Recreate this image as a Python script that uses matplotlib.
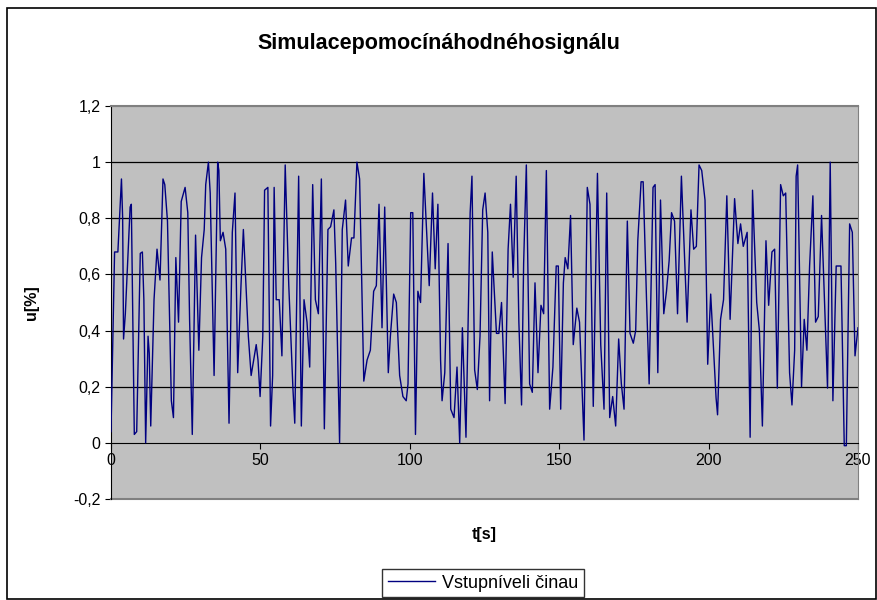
import matplotlib.pyplot as plt
from matplotlib.patches import Rectangle

# turning points (time in s, value)
t = [0, 1.2, 2.3, 3.5, 3.9, 4.2, 4.8, 6.4, 6.8, 7.5, 7.8, 8.6, 9.8, 10.5, 11.0, 11.6,
     12.4, 12.8, 13.3, 14.4, 15.4, 16.4, 17.4, 18.0, 18.9, 20.2, 20.9, 21.7, 22.6, 23.5,
     24.8, 25.7, 26.3, 27.2, 28.3, 29.4, 30.3, 31.2, 31.7, 32.6, 33.2, 34.5, 35.7, 36.1,
     36.6, 37.5, 38.4, 39.5, 40.6, 41.5, 42.4, 43.5, 44.3, 45.96, 46.9, 48.6, 49.2, 49.9,
     50.8, 51.4, 52.5, 53.4, 54.1, 54.6, 55.3, 56.3, 57.2, 58.3, 59.5, 60.9, 61.5, 62.8,
     63.7, 64.6, 65.6, 66.5, 67.5, 68.4, 69.4, 70.4, 71.4, 72.6, 73.5, 74.6, 75.2, 76.5,
     77.4, 78.5, 79.4, 80.5, 81.3, 82.3, 83.2, 84.6, 85.7, 86.8, 87.9, 88.8, 89.7, 90.7,
     91.6, 92.8, 93.5, 94.6, 95.5, 96.6, 97.7, 98.8, 99.4, 100.3, 101.0, 101.9, 102.7,
     103.6, 104.7, 106.5, 107.6, 108.5, 109.4, 110.3, 110.8, 111.7, 112.8, 113.7, 114.8,
     115.8, 116.7, 117.6, 118.8, 120.2, 120.8, 121.7, 122.6, 123.5, 124.4, 125.2, 126.1,
     126.7, 127.6, 129.0, 129.8, 130.7, 131.9, 132.9, 133.7, 134.6, 135.6, 136.5, 137.4,
     138.1, 139.0, 140.1, 141.0, 141.9, 142.9, 143.9, 144.8, 145.7, 146.8, 147.9, 149.0,
     149.7, 150.5, 151.4, 152.0, 152.9, 153.8, 154.7, 155.9, 156.8, 158.3, 159.4, 160.3,
     161.4, 162.8, 163.9, 165.0, 165.9, 166.9, 167.9, 168.9, 169.9, 170.8, 171.7, 172.8,
     173.7, 174.8, 175.6, 176.3, 177.4, 178.1, 179.2, 180.1, 181.4, 182.1, 183.0, 183.9,
     185.0, 185.9, 186.8, 187.6, 188.6, 189.6, 190.9, 192.8, 194.1, 195.0, 195.9, 196.8,
     197.7, 198.8, 199.7, 200.7, 202.5, 203.0, 204.0, 205.0, 206.1, 207.2, 208.7, 209.8,
     210.7, 211.6, 212.9, 213.9, 214.7, 216.1, 217.0, 218.0, 219.2, 220.1, 221.2, 222.1,
     223.0, 224.1, 225.0, 225.8, 227.1, 227.9, 228.8, 229.3, 229.8, 231.1, 232.0, 232.9,
     233.8, 234.9, 235.8, 236.7, 237.8, 238.7, 239.8, 240.7, 241.6, 242.7, 244.3, 245.4,
     246.1, 247.2, 248.1, 249.0, 250.0]
u = [0.04, 0.68, 0.68, 0.94, 0.80, 0.37, 0.46, 0.84, 0.85, 0.26, 0.03, 0.04, 0.675, 0.68, 0.51, 0.0,
     0.38, 0.32, 0.06, 0.51, 0.69, 0.58, 0.94, 0.92, 0.79, 0.15, 0.09, 0.66, 0.43, 0.86,
     0.91, 0.82, 0.44, 0.03, 0.74, 0.33, 0.66, 0.76, 0.92, 1.0, 0.89, 0.24, 1.0, 0.97,
     0.72, 0.75, 0.69, 0.07, 0.75, 0.89, 0.25, 0.56, 0.76, 0.38, 0.24, 0.35, 0.295, 0.165,
     0.38, 0.90, 0.91, 0.06, 0.24, 0.91, 0.51, 0.51, 0.31, 0.99, 0.56, 0.19, 0.07, 0.95,
     0.06, 0.51, 0.43, 0.27, 0.92, 0.51, 0.46, 0.94, 0.05, 0.76, 0.77, 0.83, 0.64, 0.0,
     0.76, 0.865, 0.63, 0.73, 0.73, 1.0, 0.94, 0.22, 0.295, 0.33, 0.54, 0.56, 0.85, 0.41,
     0.84, 0.25, 0.38, 0.53, 0.50, 0.24, 0.165, 0.15, 0.21, 0.82, 0.82, 0.03, 0.54,
     0.50, 0.96, 0.56, 0.89, 0.62, 0.85, 0.295, 0.15, 0.25, 0.71, 0.12, 0.09,
     0.27, 0.0, 0.41, 0.02, 0.82, 0.95, 0.26, 0.19, 0.38, 0.83, 0.89, 0.75,
     0.15, 0.68, 0.39, 0.39, 0.50, 0.14, 0.69, 0.85, 0.59, 0.95, 0.43, 0.135,
     0.64, 0.99, 0.21, 0.18, 0.57, 0.25, 0.49, 0.46, 0.97, 0.12, 0.27, 0.63,
     0.63, 0.12, 0.57, 0.66, 0.62, 0.81, 0.35, 0.48, 0.43, 0.01, 0.91, 0.85,
     0.13, 0.96, 0.35, 0.12, 0.89, 0.09, 0.165, 0.06, 0.37, 0.21, 0.12, 0.79,
     0.39, 0.355, 0.40, 0.72, 0.93, 0.93, 0.52, 0.21, 0.91, 0.92, 0.25, 0.865,
     0.46, 0.54, 0.65, 0.82, 0.79, 0.46, 0.95, 0.43, 0.83, 0.69, 0.70, 0.99,
     0.97, 0.865, 0.28, 0.53, 0.16, 0.10, 0.44, 0.51, 0.88, 0.44, 0.87, 0.71,
     0.78, 0.70, 0.75, 0.02, 0.90, 0.50, 0.40, 0.06, 0.72, 0.49, 0.68, 0.69,
     0.195, 0.92, 0.88, 0.89, 0.25, 0.135, 0.33, 0.95, 0.99, 0.20, 0.44, 0.33,
     0.63, 0.88, 0.43, 0.45, 0.81, 0.53, 0.195, 1.0, 0.15, 0.63, 0.63, -0.01,
     -0.01, 0.78, 0.75, 0.31, 0.41]

xticks = [0, 50, 100, 150, 200, 250]
yticks = [-0.2, 0, 0.2, 0.4, 0.6, 0.8, 1.0, 1.2]
ylabels = ["-0,2", "0", "0,2", "0,4", "0,6", "0,8", "1", "1,2"]

plt.rcParams['font.family'] = ['Liberation Sans', 'DejaVu Sans']

fig = plt.figure(figsize=(8.78, 6), dpi=100)
fig.patches.append(Rectangle((7 / 878, 0.002), 869 / 878, 1 - 8 / 600 - 0.002,
                             transform=fig.transFigure, fill=False,
                             edgecolor='black', linewidth=1.2))

ax = fig.add_axes([111 / 878, 1 - 499 / 600, 747 / 878, 393 / 600])
ax.set_facecolor('#C0C0C0')
ax.set_xlim(0, 250)
ax.set_ylim(-0.2, 1.2)

for yv in yticks[2:-1]:
    ax.axhline(yv, color='black', linewidth=0.9, zorder=1)

ax.plot(t, u, color='#000080', linewidth=1.0, zorder=3, label='Vstupníveli činau')

ax.spines['bottom'].set_position(('data', 0))
ax.spines['bottom'].set_color('black')
ax.spines['left'].set_color('black')
ax.spines['top'].set_color('#808080')
ax.spines['right'].set_color('#808080')
ax.axhline(-0.2, color='#808080', linewidth=1.5, clip_on=False, zorder=2)
ax.axhline(1.2, color='#808080', linewidth=1.5, clip_on=False, zorder=2)

ax.set_xticks(xticks)
ax.set_xticklabels([str(x) for x in xticks])
ax.set_yticks(yticks)
ax.set_yticklabels(ylabels)
ax.tick_params(axis='both', direction='out', length=4, labelsize=11.5, color='black')
ax.tick_params(axis='x', pad=3)

ax.set_xlabel('t[s]', fontsize=11.5, fontweight='bold')
ax.xaxis.set_label_coords(0.5, -0.07)
ax.set_ylabel('u[%]', fontsize=11.5, fontweight='bold')
ax.yaxis.set_label_coords(-0.097, 0.5)

fig.text(0.5, 1 - 44 / 600, 'Simulacepomocínáhodnéhosignálu', ha='center', va='center',
         fontsize=15.5, fontweight='bold')

leg = fig.legend(loc='center', bbox_to_anchor=(483 / 878, 1 - 583 / 600), fontsize=13,
                 frameon=True, fancybox=False, handlelength=2.6, handletextpad=0.4,
                 borderpad=0.3, borderaxespad=0)
leg.get_frame().set_edgecolor('black')
leg.get_frame().set_linewidth(1.0)

fig.savefig('out.png', dpi=100, facecolor='white')
